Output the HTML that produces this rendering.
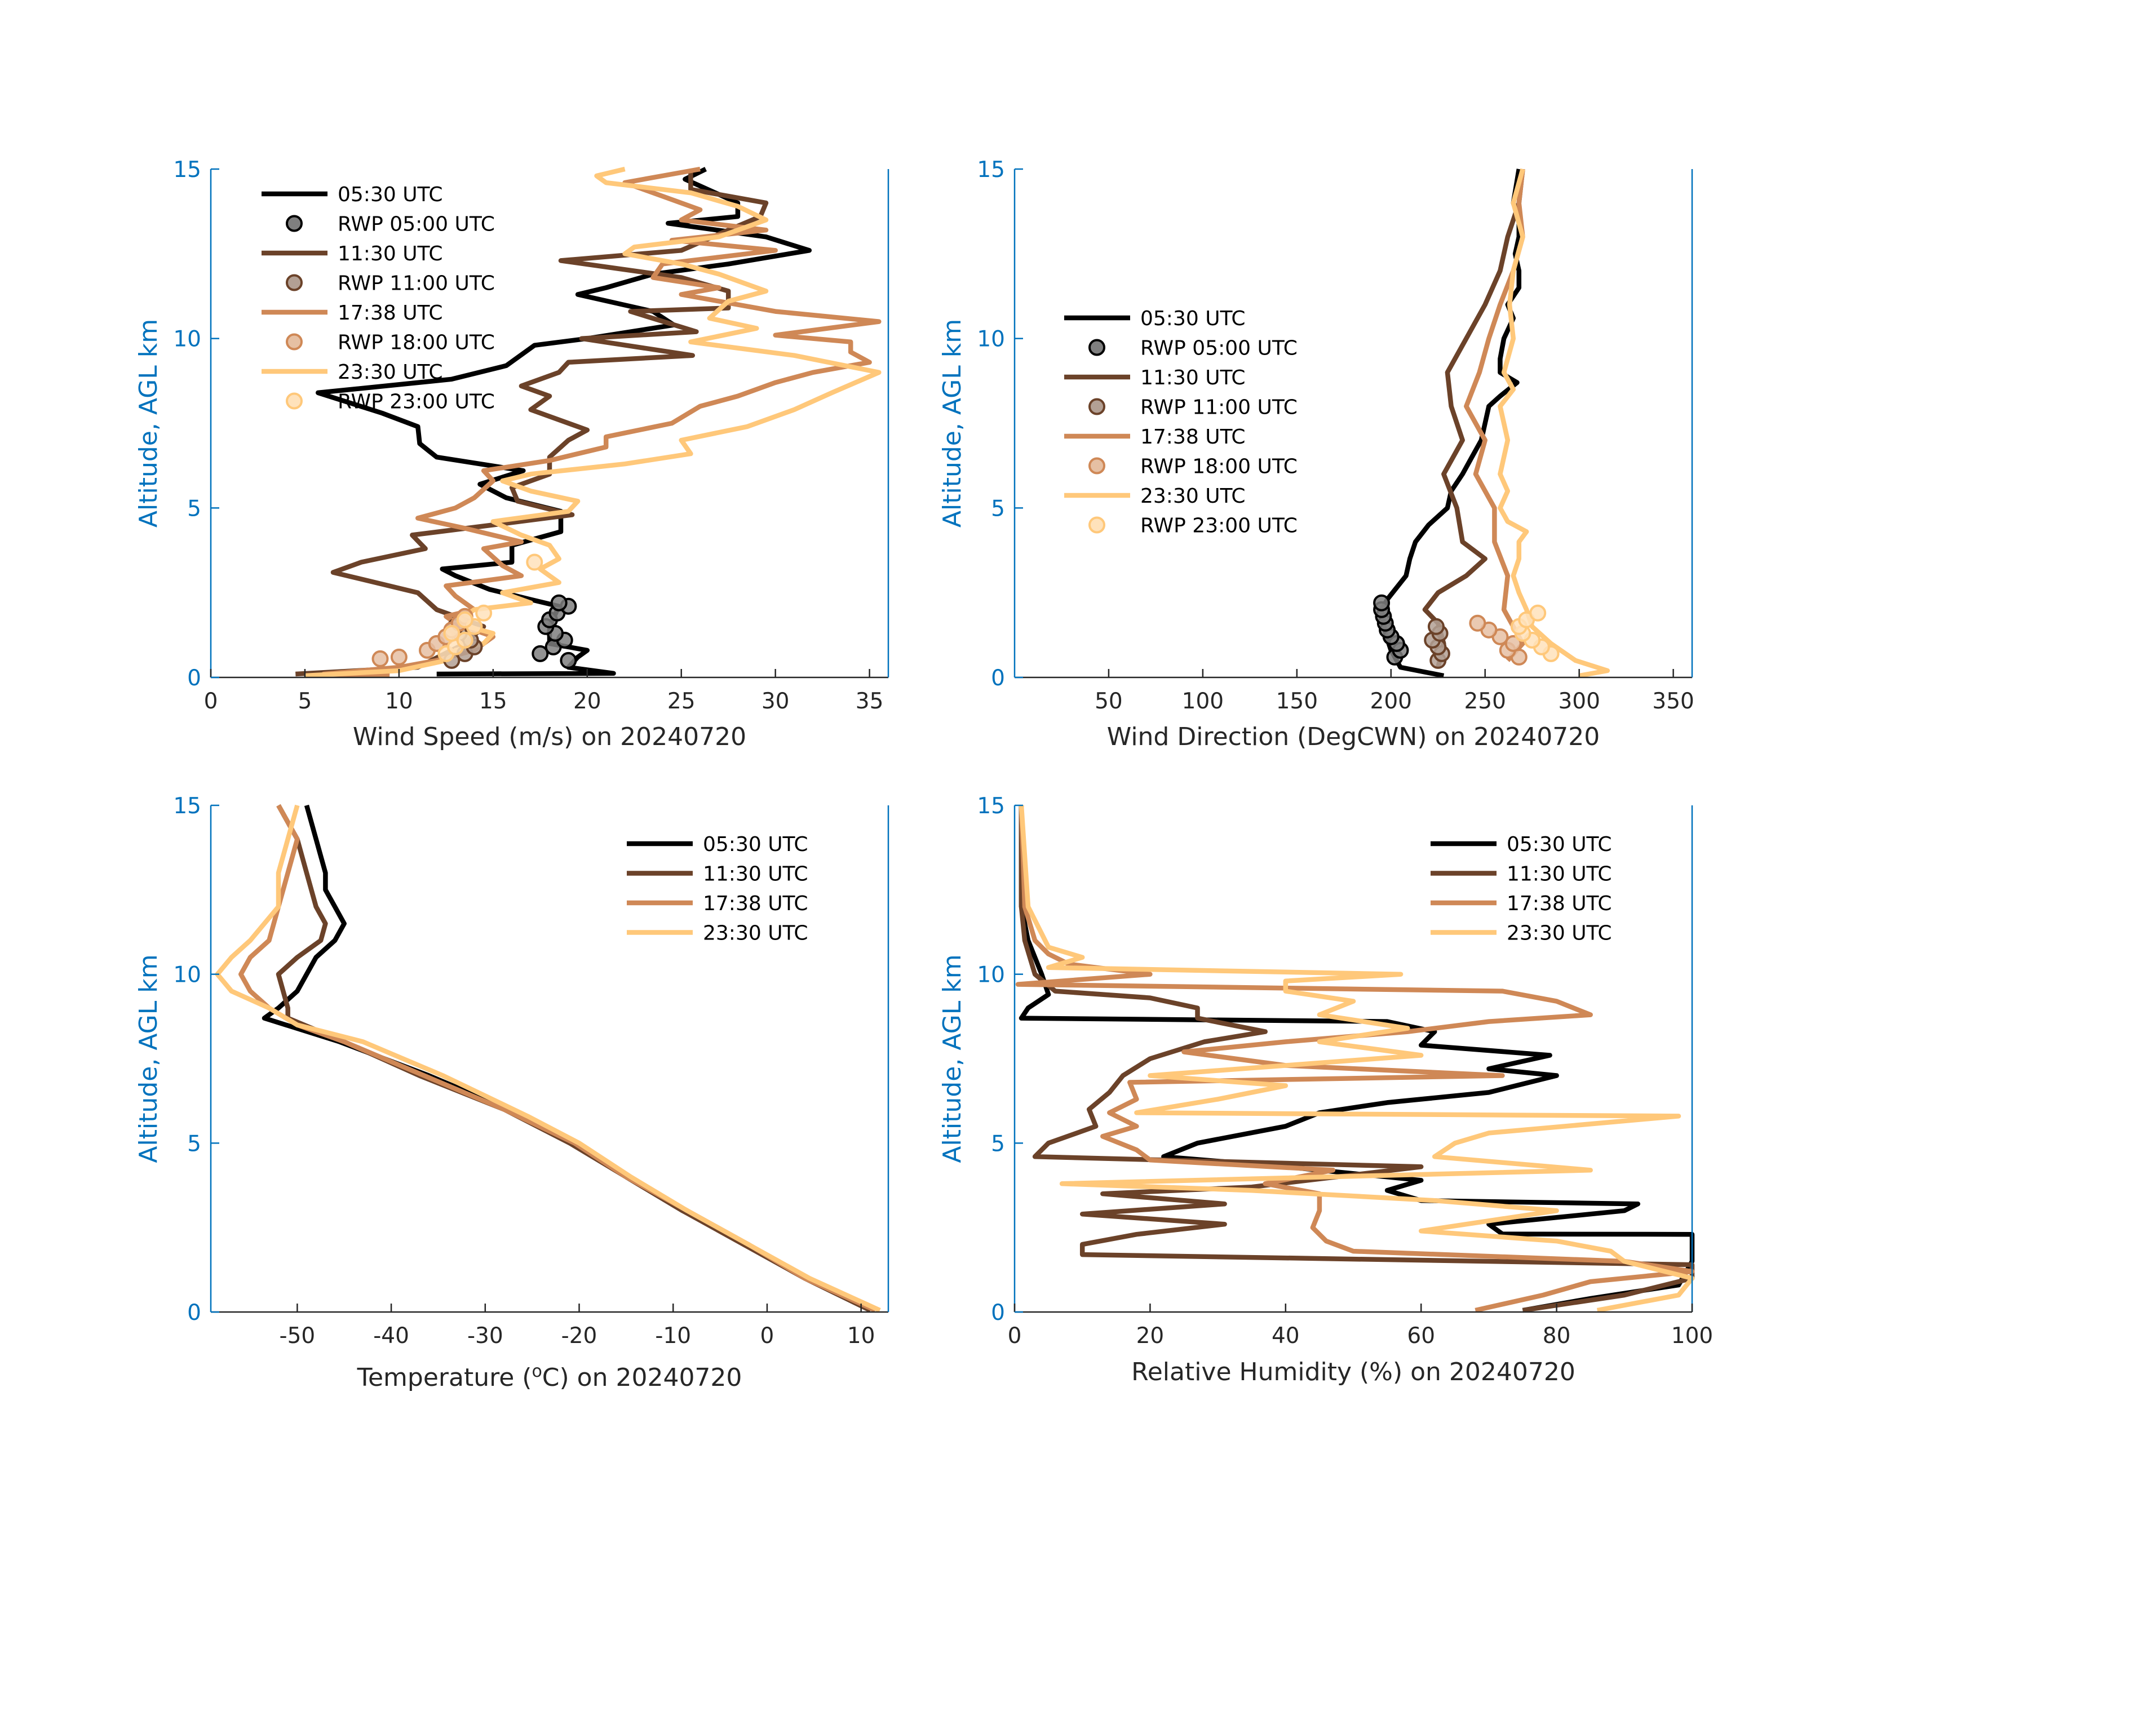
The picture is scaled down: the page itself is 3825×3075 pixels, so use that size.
<!DOCTYPE html>
<html><head><meta charset="utf-8"><style>
html,body{margin:0;padding:0;background:#fff}
svg{display:block}
text{font-family:"DejaVu Sans","Liberation Sans",sans-serif}
</style></head><body>
<svg id="fig" width="3825" height="3075" viewBox="0 0 3825 3075" xmlns="http://www.w3.org/2000/svg"></svg>
<script>
// ---------- DATA: [altitude km, value] ----------
const ws0530=[[0.1,12],[0.12,21.4],[0.3,19],[0.6,19.5],[0.8,20],[1.0,18],[1.5,18],[2.1,18.5],[2.3,17],[2.6,14.8],[3.0,13],[3.2,12.3],[3.4,16],[3.9,16],[4.3,18.6],[4.9,18.6],[5.3,15.7],[5.7,14.3],[6.1,16.6],[6.5,12],[6.9,11.1],[7.4,11],[7.8,9.1],[8.4,5.7],[8.8,12.8],[9.2,15.7],[9.8,17.2],[10.0,20],[10.4,24.6],[10.8,23.5],[11.3,19.5],[11.5,21],[11.9,23.5],[12.2,27.5],[12.6,31.8],[13.0,29.5],[13.4,24.3],[13.6,28],[14.0,28],[14.7,25.2],[15,26.3]];
const ws1130=[[0.1,4.5],[0.3,11],[1.0,13.5],[1.5,14.5],[2.0,12],[2.5,11],[3.1,6.5],[3.4,8],[3.8,11.4],[4.2,10.7],[4.5,15],[4.8,19.2],[5.2,16.3],[5.6,16],[6.0,18],[6.5,18],[7.0,19],[7.3,20],[7.9,17],[8.3,18],[8.6,16.5],[9.0,18.5],[9.3,19],[9.5,25.6],[10.0,19.7],[10.2,25.8],[10.8,22.3],[10.9,27.5],[11.4,27.5],[11.8,25],[12.3,18.6],[12.6,25],[13.2,27.5],[13.6,29.2],[14.0,29.5],[14.4,25.5],[15,25.5]];
const ws1738=[[0.05,9.5],[0.1,6],[0.3,10],[0.5,12],[0.8,14],[1.2,15],[1.6,13],[1.8,12.5],[2.0,14],[2.4,13],[2.7,12.5],[3.0,16.5],[3.3,15.5],[3.8,14.5],[4.0,16.5],[4.4,13.5],[4.7,11],[5.0,13],[5.3,14],[5.8,15],[6.1,14.5],[6.4,18],[6.8,21],[7.1,21],[7.5,24.5],[8.0,26],[8.3,28],[8.7,30],[9.0,32],[9.3,35],[9.6,34],[9.9,34],[10.1,30],[10.5,35.5],[10.8,30],[11.1,27],[11.3,25],[11.5,27],[11.8,23.5],[12.2,24],[12.4,27],[12.6,30],[12.9,24.5],[13.2,29.5],[13.5,25],[13.8,26],[14.2,24],[14.6,22],[14.8,24],[15,26]];
const ws2330=[[0.05,5],[0.2,10],[0.5,12.5],[0.8,13],[1.0,14.5],[1.3,15],[1.6,13],[2.0,14],[2.2,17],[2.5,15.5],[2.8,18.5],[3.2,17.5],[3.5,18.5],[3.9,18],[4.2,16.5],[4.6,15],[4.9,19],[5.2,19.5],[5.5,17],[5.8,15.5],[6.0,17],[6.3,22],[6.6,25.5],[7.0,25],[7.4,28.5],[7.9,31],[8.4,33],[9.0,35.5],[9.5,31],[9.9,25.5],[10.3,29],[10.6,26.5],[11.1,27.5],[11.4,29.5],[11.9,27],[12.2,25],[12.5,22],[12.7,22.5],[13.0,27],[13.5,29.5],[13.9,28],[14.3,25.5],[14.6,21],[14.8,20.5],[15,22]];
const rwpWs0500=[[0.5,19],[0.7,17.5],[0.9,18.2],[1.1,18.8],[1.3,18.3],[1.5,17.8],[1.7,18],[1.9,18.4],[2.1,19],[2.2,18.5]];
const rwpWs1100=[[0.5,12.8],[0.7,13.5],[0.9,14],[1.1,13.8],[1.3,13.2],[1.5,13]];
const rwpWs1800=[[0.55,9],[0.6,10],[0.8,11.5],[1.0,12],[1.2,12.5],[1.4,12.8],[1.6,13.2],[1.8,13.5]];
const rwpWs2300=[[0.7,12.5],[0.9,13],[1.1,13.5],[1.3,12.8],[1.5,14],[1.7,13.5],[1.9,14.5],[3.4,17.2]];
const wd0530=[[0.05,228],[0.3,205],[0.8,200],[1.3,197],[2.0,195],[2.3,198],[3.0,208],[3.5,210],[4.0,213],[4.5,220],[5.0,230],[5.5,232],[6.0,238],[6.5,243],[7.0,248],[7.5,250],[8.0,252],[8.3,258],[8.7,267],[9.0,258],[9.4,258],[10.0,260],[10.6,265],[11.0,262],[11.5,268],[12.0,268],[12.5,266],[13.0,268],[13.5,268],[14,265],[15,268]];
const wd1130=[[0.3,225],[1.0,228],[1.6,225],[2.0,218],[2.5,225],[3.0,240],[3.5,250],[4.0,238],[5.0,235],[6.0,228],[7.0,238],[8.0,232],[9.0,230],[10.0,240],[11.0,250],[12.0,258],[13.0,262],[14.0,268],[15,270]];
const wd1738=[[0.5,262],[1.0,270],[1.5,265],[2.0,260],[3.0,262],[4.0,255],[5.0,255],[6.0,245],[7.0,250],[8.0,240],[9.0,247],[10.0,252],[11.0,258],[12.0,265],[13.0,270],[14.0,268],[15,270]];
const wd2330=[[0.05,300],[0.2,315],[0.5,298],[1.0,285],[1.5,275],[2.0,272],[2.5,268],[3.0,265],[3.5,268],[4.0,268],[4.3,272],[4.6,262],[5.0,258],[5.5,262],[6.0,258],[7.0,262],[8.0,258],[8.5,265],[9.0,260],[10.0,265],[11.0,263],[12.0,265],[13.0,270],[14.0,265],[15,270]];
const rwpWd0500=[[0.6,202],[0.8,205],[1.0,203],[1.2,200],[1.4,198],[1.6,197],[1.8,196],[2.0,195],[2.2,195]];
const rwpWd1100=[[0.5,225],[0.7,227],[0.9,225],[1.1,222],[1.3,226],[1.5,224]];
const rwpWd1800=[[0.6,268],[0.8,262],[1.0,265],[1.2,258],[1.4,252],[1.6,246]];
const rwpWd2300=[[0.7,285],[0.9,280],[1.1,275],[1.3,270],[1.5,268],[1.7,272],[1.9,278]];
const t0530=[[0.05,11],[1,4],[2,-2],[3,-9],[4,-15],[5,-20.5],[6,-27.5],[7,-36],[8,-45.5],[8.7,-53.5],[9,-52],[9.5,-50],[10,-49],[10.5,-48],[11,-46],[11.5,-45],[12,-46],[12.5,-47],[13,-47],[14,-48],[15,-49]];
const t1130=[[0.05,11],[1,4],[2,-2.5],[3,-9],[4,-15],[5,-21],[6,-28],[7,-37],[8,-45],[8.7,-51],[9,-51],[10,-52],[10.5,-50],[11,-47.5],[11.5,-47],[12,-48],[13,-49],[14,-50],[15,-52]];
const t1738=[[0.05,11.5],[1,4],[2,-2],[3,-8.5],[4,-15],[5,-20.5],[6,-28],[7,-36.5],[8,-45],[8.5,-50],[9,-53],[9.5,-55],[10,-56],[10.5,-55],[11,-53],[12,-52],[13,-51],[14,-50],[15,-52]];
const t2330=[[0.05,12],[1,4.5],[2,-2],[3,-8.5],[4,-14.5],[5,-20],[5.8,-25.5],[6,-27],[7,-34.5],[8,-43],[8.5,-50],[9,-53],[9.5,-57],[10,-58.5],[10.5,-57],[11,-55],[12,-52],[13,-52],[14,-51],[15,-50]];
const rh0530=[[0.05,75],[0.4,85],[0.8,98],[1.5,100],[2.3,100],[2.31,72],[2.6,70],[3.0,90],[3.2,92],[3.3,60],[3.6,55],[3.9,60],[4.3,40],[4.6,22],[5.0,27],[5.5,40],[5.9,45],[6.2,55],[6.5,70],[7.0,80],[7.2,70],[7.6,79],[7.9,60],[8.3,62],[8.6,55],[8.7,1],[9.0,2],[9.4,5],[10,4],[11,2],[12,1],[15,1]];
const rh1130=[[0.05,75],[0.5,90],[1.0,100],[1.4,100],[1.7,10],[2.0,10],[2.3,18],[2.6,31],[2.9,10],[3.2,31],[3.5,13],[3.7,35],[4.3,60],[4.6,3],[5.0,5],[5.5,12],[6.0,11],[6.5,14],[7.0,16],[7.5,20],[8.0,28],[8.3,37],[8.7,27],[9.0,27],[9.3,20],[9.5,6],[10,3],[11,1.5],[12,1],[15,1]];
const rh1738=[[0.05,68],[0.5,78],[0.9,85],[1.2,100],[1.5,90],[1.8,50],[2.1,46],[2.5,44],[3.0,45],[3.5,45],[3.8,37],[4.2,47],[4.5,20],[4.8,18],[5.2,13],[5.5,18],[5.9,14],[6.3,18],[6.8,17],[7.0,72],[7.3,40],[7.7,25],[8.0,40],[8.3,58],[8.6,70],[8.8,85],[9.2,80],[9.5,72],[9.7,0.5],[10.0,20],[10.3,8],[10.6,5],[11,3],[12,1.5],[15,1]];
const rh2330=[[0.05,86],[0.5,98],[1.0,100],[1.5,90],[1.8,88],[2.1,80],[2.4,60],[2.7,70],[3.0,80],[3.3,62],[3.6,35],[3.8,7],[4.2,85],[4.6,62],[5.0,65],[5.3,70],[5.8,98],[5.9,18],[6.3,30],[6.7,40],[7.0,20],[7.3,40],[7.6,60],[8.0,45],[8.4,58],[8.8,45],[9.2,50],[9.5,40],[9.8,40],[10.0,57],[10.2,5],[10.5,10],[10.8,5],[11.2,4],[12,2],[15,1]];
const wsTicks=[0,5,10,15,20,25,30,35];
const wdTicks=[50,100,150,200,250,300,350];
const tTicks=[-50,-40,-30,-20,-10,0,10];
const rhTicks=[0,20,40,60,80,100];
const altTicks=[0,5,10,15];
const seriesNames=["05:30 UTC","11:30 UTC","17:38 UTC","23:30 UTC"];
const rwpNames=["RWP 05:00 UTC","RWP 11:00 UTC","RWP 18:00 UTC","RWP 23:00 UTC"];
// ---------- STYLE ----------
const COLS=["#000000","#6b4229","#cf8856","#ffc87a"];
const FILLS=["#7f7f7f","#b3a094","#e6c0a3","#ffe2bb"];
const BLUE="#0072bd",DARK="#262626";
const NS="http://www.w3.org/2000/svg";
const svg=document.getElementById('fig');
function el(tag,attrs,parent){const e=document.createElementNS(NS,tag);for(const k in attrs)e.setAttribute(k,attrs[k]);(parent||svg).appendChild(e);return e;}

function panel(cfg){
  const g=el('g',{});
  
  
  const L=cfg.l,R=cfg.r,T=cfg.t,B=cfg.b;
  const sx=v=>L+(v-cfg.x0)/(cfg.x1-cfg.x0)*(R-L);
  const sy=a=>B-a/15*(B-T);
  cfg.lines.forEach((d,i)=>{
    const p=el('polyline',{points:d.map(q=>sx(q[1]).toFixed(1)+','+sy(q[0]).toFixed(1)).join(' '),fill:'none',stroke:COLS[i],'stroke-width':8.5,'stroke-linejoin':'round'},g);
    
    
  });
  (cfg.rwp||[]).forEach((d,i)=>{
    d.forEach(q=>{
      const c=el('circle',{cx:sx(q[1]),cy:sy(q[0]),r:13,fill:FILLS[i],stroke:COLS[i],'stroke-width':4,'fill-opacity':0.85},g);
      
      
    });
  });
  const xa=el('line',{x1:L,y1:B,x2:R,y2:B,stroke:DARK,'stroke-width':2.5},g);
  
  
  const ya=el('line',{x1:L,y1:T,x2:L,y2:B,stroke:BLUE,'stroke-width':2.5},g);
  
  
  el('line',{x1:R,y1:T,x2:R,y2:B,stroke:BLUE,'stroke-width':2.5},g);
  cfg.xticks.forEach(v=>{
    el('line',{x1:sx(v),y1:B,x2:sx(v),y2:B-15,stroke:DARK,'stroke-width':2.5},g);
    const t=el('text',{x:sx(v),y:B+55,'font-size':39,fill:DARK,'text-anchor':'middle'},g);
    t.textContent=v;
    
    
  });
  altTicks.forEach(a=>{
    el('line',{x1:L,y1:sy(a),x2:L+15,y2:sy(a),stroke:BLUE,'stroke-width':2.5},g);
    const t=el('text',{x:L-17,y:sy(a)+14,'font-size':39,fill:BLUE,'text-anchor':'end'},g);
    t.textContent=a;
    
    
  });
  const xl=el('text',{x:(L+R)/2,y:cfg.xly,'font-size':44,fill:DARK,'text-anchor':'middle'},g);
  xl.innerHTML=cfg.xlabel;
  
  
  const yl=el('text',{x:0,y:0,'font-size':44,fill:BLUE,'text-anchor':'middle',transform:`translate(${L-96},${(T+B)/2}) rotate(-90)`},g);
  yl.textContent='Altitude, AGL km';
  
  
  const lg=el('g',{},g);
  
  
  let row=0;
  for(let i=0;i<4;i++){
    const y=cfg.lgy+row*52.5;
    el('line',{x1:cfg.lgx,y1:y,x2:cfg.lgx+117,y2:y,stroke:COLS[i],'stroke-width':8.5},lg);
    const t=el('text',{x:cfg.lgx+135,y:y+13,'font-size':36,fill:'#000'},lg);
    t.textContent=seriesNames[i];
    
    
    row++;
    if(cfg.rwp){
      const y2=cfg.lgy+row*52.5;
      el('circle',{cx:cfg.lgx+58,cy:y2,r:13,fill:FILLS[i],stroke:COLS[i],'stroke-width':4},lg);
      const t2=el('text',{x:cfg.lgx+135,y:y2+13,'font-size':36,fill:'#000'},lg);
      t2.textContent=rwpNames[i];
      
      
      row++;
    }
  }
}
panel({name:'wind-speed-panel',l:374,r:1576,t:300,b:1202,x0:0,x1:36,xticks:wsTicks,xlabel:'Wind Speed (m/s) on 20240720',xly:1322,lines:[ws0530,ws1130,ws1738,ws2330],rwp:[rwpWs0500,rwpWs1100,rwpWs1800,rwpWs2300],lgx:464,lgy:344});
panel({name:'wind-direction-panel',l:1800,r:3002,t:300,b:1202,x0:0,x1:360,xticks:wdTicks,xlabel:'Wind Direction (DegCWN) on 20240720',xly:1322,lines:[wd0530,wd1130,wd1738,wd2330],rwp:[rwpWd0500,rwpWd1100,rwpWd1800,rwpWd2300],lgx:1888,lgy:564});
panel({name:'temperature-panel',l:374,r:1576,t:1429,b:2328,x0:-59.2,x1:12.9,xticks:tTicks,xlabel:'Temperature (<tspan font-size="30" dy="-16">o</tspan><tspan dy="16">C) on 20240720</tspan>',xly:2459,lines:[t0530,t1130,t1738,t2330],lgx:1112,lgy:1497});
panel({name:'humidity-panel',l:1800,r:3002,t:1429,b:2328,x0:0,x1:100,xticks:rhTicks,xlabel:'Relative Humidity (%) on 20240720',xly:2449,lines:[rh0530,rh1130,rh1738,rh2330],lgx:2538,lgy:1497});
</script>
</body></html>
